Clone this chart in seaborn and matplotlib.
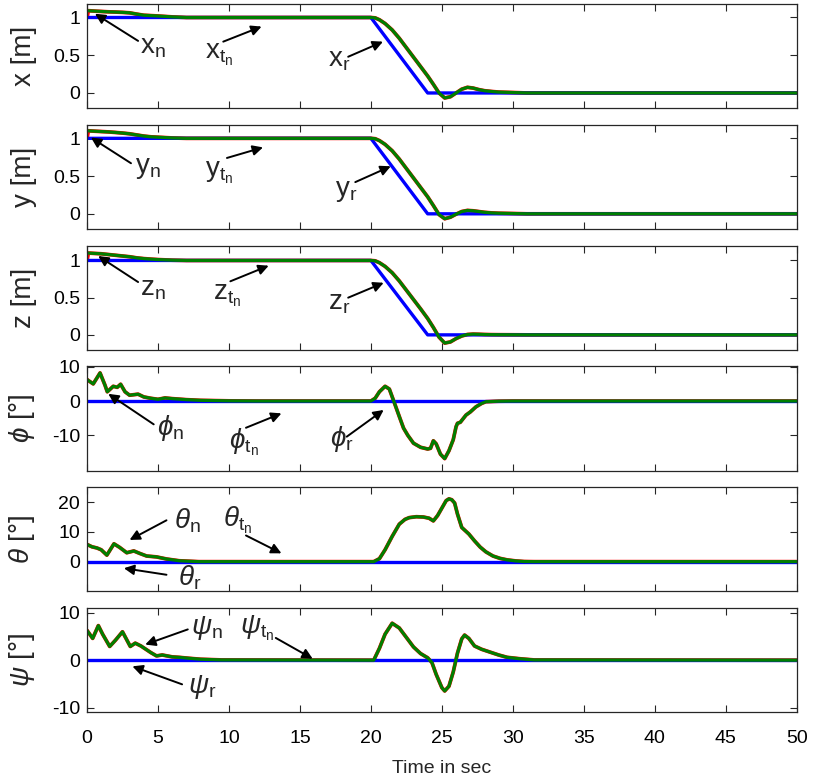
import numpy as np
import seaborn as sns
import matplotlib.pyplot as plt

sns.set_style("ticks")
plt.rcParams['font.family'] = ['Liberation Sans', 'DejaVu Sans']
plt.rcParams['mathtext.fontset'] = 'custom'
plt.rcParams['mathtext.rm'] = 'Liberation Sans'
plt.rcParams['mathtext.it'] = 'Liberation Sans:italic'
plt.rcParams['mathtext.bf'] = 'Liberation Sans:bold'

# reference trajectories
t_ref = [0, 20, 24, 50]
pos_ref = [1, 1, 0, 0]
t_ang_ref = [0, 50]
ang_ref = [0, 0]

# position responses (shared time grid)
t_pos = [0, 0.5, 1, 1.5, 2, 2.5, 3, 3.5, 4, 4.5, 5, 6, 7,
         20, 20.3, 20.6, 21, 21.5, 22, 22.5, 23, 23.5, 24,
         24.4, 24.8, 25.2, 25.6, 26, 26.4, 26.8, 27.2, 27.6, 28,
         28.5, 29, 30, 31, 50]
x_tn = [1.09, 1.085, 1.08, 1.075, 1.072, 1.068, 1.062, 1.045, 1.03, 1.025, 1.02, 1.008, 1.0,
        1.0, 0.995, 0.97, 0.92, 0.835, 0.725, 0.6, 0.475, 0.35, 0.225,
        0.115, 0.0, -0.066, -0.05, 0.0, 0.05, 0.075, 0.065, 0.045, 0.03,
        0.02, 0.012, 0.006, 0.0, 0.0]
y_tn = [1.10, 1.095, 1.09, 1.085, 1.078, 1.07, 1.06, 1.045, 1.03, 1.02, 1.015, 1.005, 1.0,
        1.0, 0.995, 0.97, 0.92, 0.835, 0.725, 0.6, 0.475, 0.35, 0.225,
        0.11, -0.01, -0.065, -0.045, -0.005, 0.03, 0.045, 0.04, 0.03, 0.02,
        0.012, 0.008, 0.004, 0.0, 0.0]
z_tn = [1.10, 1.095, 1.09, 1.08, 1.07, 1.06, 1.05, 1.035, 1.025, 1.018, 1.012, 1.004, 1.0,
        1.0, 0.995, 0.97, 0.92, 0.835, 0.725, 0.6, 0.475, 0.35, 0.22,
        0.10, -0.03, -0.11, -0.095, -0.05, -0.015, 0.005, 0.01, 0.008, 0.005,
        0.003, 0.002, 0.001, 0.0, 0.0]

# attitude responses
t_phi = [0, 0.09, 0.44, 0.92, 1.27, 1.43, 1.85, 2.13, 2.37, 2.68,
         3.0, 3.6, 4.0, 4.5, 5.0, 5.5, 6.0, 7.0, 8.0, 10,
         12, 20, 20.3, 20.6, 21.0, 21.3, 21.6, 22.0, 22.3, 22.6,
         23.0, 23.5, 24.0, 24.2, 24.4, 24.6, 24.9, 25.2, 25.5, 25.8,
         26.0, 26.1, 26.3, 26.7, 27.0, 27.4, 27.8, 28.1, 29, 30, 50]
phi_tn = [6.3, 6.0, 5.0, 8.2, 4.6, 2.7, 4.3, 4.0, 4.9, 2.7,
          1.7, 2.0, 1.2, 0.8, 0.5, 0.9, 0.7, 0.4, 0.2, 0.05,
          0, 0, 0.8, 2.7, 4.3, 3.5, 0.1, -4.5, -7.9, -10,
          -12.3, -13.5, -14, -13.8, -11.6, -12.5, -15.5, -16.8, -14.5, -11.3,
          -7.5, -6.5, -6.2, -4.1, -3.2, -1.7, -0.7, -0.2, -0.05, 0, 0]

t_theta = [0, 0.35, 0.7, 1.0, 1.4, 1.9, 2.3, 2.8, 3.3, 3.7,
           4.2, 4.9, 5.6, 6.5, 7.9, 20.2, 20.6, 21.0, 21.5, 22.0,
           22.4, 22.7, 23.2, 23.7, 24.1, 24.4, 24.7, 25.0, 25.3, 25.5,
           25.7, 25.9, 26.1, 26.4, 26.9, 27.3, 27.7, 28.1, 28.6, 29.1,
           29.6, 30.2, 30.8, 31.5, 50]
theta_tn = [5.8, 5.0, 4.6, 4.0, 2.2, 6.0, 4.8, 3.0, 3.6, 2.8,
            1.9, 1.6, 0.9, 0.3, 0, 0, 1.0, 4.0, 8.5, 12.6,
            14.2, 14.8, 15.1, 15.0, 14.6, 13.7, 15.5, 18.0, 20.5, 21.1,
            20.8, 19.7, 16.0, 11.5, 9.3, 7.0, 4.9, 3.3, 1.9, 1.1,
            0.6, 0.25, 0.05, 0, 0]

t_psi = [0, 0.4, 0.8, 1.1, 1.6, 2.0, 2.5, 3.05, 3.4, 3.8,
         4.5, 4.9, 5.3, 6.0, 6.5, 7.2, 8.0, 9.5, 20.2, 20.6,
         21.0, 21.5, 22.0, 22.5, 23.0, 23.5, 24.0, 24.3, 24.6, 25.0,
         25.2, 25.5, 25.8, 26.1, 26.4, 26.6, 26.9, 27.3, 27.8, 28.3,
         29.0, 29.6, 30.5, 31.5, 50]
psi_tn = [6.3, 4.6, 7.3, 5.5, 2.9, 4.2, 6.0, 2.9, 3.6, 3.0,
          1.6, 0.9, 1.1, 0.7, 0.6, 0.4, 0.2, 0.05, 0, 2.5,
          5.5, 7.8, 6.8, 4.8, 2.8, 1.4, 0.5, -0.5, -3.0, -5.8,
          -6.5, -5.5, -2.5, 1.5, 4.5, 5.3, 4.6, 3.0, 2.3, 1.8,
          1.1, 0.6, 0.3, 0.05, 0]

x_ticks = list(range(0, 51, 5))

# panel setup: (ylabel, time, response, ref time, ref, red starts on ref,
#               ylim, yticks, yticklabels, annotations)
# annotation: (text, text pos, arrow tail, arrow tip)
panels = [
    ("x [m]", t_pos, x_tn, t_ref, pos_ref, True, (-0.2, 1.18), [0, 0.5, 1], ["0", "0.5", "1"],
     [(r"$\mathrm{x}_\mathrm{n}$", (3.75, 0.52), (3.6, 0.69), (0.56, 1.05)),
      (r"$\mathrm{x}_{\mathrm{t}_\mathrm{n}}$", (8.3, 0.46), (9.6, 0.68), (12.3, 0.88)),
      (r"$\mathrm{x}_\mathrm{r}$", (17.0, 0.35), (18.4, 0.48), (20.85, 0.68))]),
    ("y [m]", t_pos, y_tn, t_ref, pos_ref, True, (-0.2, 1.18), [0, 0.5, 1], ["0", "0.5", "1"],
     [(r"$\mathrm{y}_\mathrm{n}$", (3.4, 0.54), (3.1, 0.67), (0.28, 1.01)),
      (r"$\mathrm{y}_{\mathrm{t}_\mathrm{n}}$", (8.3, 0.5), (9.86, 0.74), (12.4, 0.88)),
      (r"$\mathrm{y}_\mathrm{r}$", (17.5, 0.24), (18.9, 0.42), (21.4, 0.63))]),
    ("z [m]", t_pos, z_tn, t_ref, pos_ref, True, (-0.2, 1.2), [0, 0.5, 1], ["0", "0.5", "1"],
     [(r"$\mathrm{z}_\mathrm{n}$", (3.73, 0.525), (3.6, 0.71), (0.79, 1.06)),
      (r"$\mathrm{z}_{\mathrm{t}_\mathrm{n}}$", (8.9, 0.475), (10.1, 0.72), (12.8, 0.93)),
      (r"$\mathrm{z}_\mathrm{r}$", (17.0, 0.345), (18.4, 0.5), (20.9, 0.7))]),
    (r"$\phi$ [°]", t_phi, phi_tn, t_ang_ref, ang_ref, False, (-20.3, 10.1), [-10, 0, 10], ["-10", "0", "10"],
     [(r"$\phi_\mathrm{n}$", (4.9, -10.0), (4.7, -6.8), (1.5, 2.1)),
      (r"$\phi_{\mathrm{t}_\mathrm{n}}$", (10.0, -13.8), (11.2, -7.8), (13.7, -3.6)),
      (r"$\phi_\mathrm{r}$", (17.1, -13.0), (18.3, -10.4), (20.9, -2.6))]),
    (r"$\theta$ [°]", t_theta, theta_tn, t_ang_ref, ang_ref, False, (-10, 25), [0, 10, 20], ["0", "10", "20"],
     [(r"$\theta_\mathrm{n}$", (6.1, 11.3), (5.6, 13.9), (3.0, 7.3)),
      (r"$\theta_{\mathrm{t}_\mathrm{n}}$", (9.6, 12.0), (11.2, 8.8), (13.7, 2.8)),
      (r"$\theta_\mathrm{r}$", (6.4, -8.0), (5.6, -4.4), (2.6, -2.2))]),
    (r"$\psi$ [°]", t_psi, psi_tn, t_ang_ref, ang_ref, False, (-11, 11), [-10, 0, 10], ["-10", "0", "10"],
     [(r"$\psi_\mathrm{n}$", (7.3, 5.6), (7.1, 6.5), (4.1, 3.3)),
      (r"$\psi_{\mathrm{t}_\mathrm{n}}$", (10.75, 5.6), (13.3, 4.7), (15.9, 0.3)),
      (r"$\psi_\mathrm{r}$", (7.1, -7.0), (6.7, -5.1), (3.2, -1.3))]),
]

fig, axes = plt.subplots(6, 1, figsize=(8.13, 7.81), dpi=100)
fig.subplots_adjust(left=0.107, right=0.980, top=0.995, bottom=0.088, hspace=0.16)

axis_col = "#262626"

for i, (ax, p) in enumerate(zip(axes, panels)):
    ylabel, t, resp, tr, ref, red_jump, ylim, yt, ytl, notes = p
    # nominal response (mostly hidden under the green one)
    if red_jump:
        t_red = [0, 0.1] + list(t[1:])
        r_red = [ref[0], resp[0]] + list(resp[1:])
    else:
        t_red, r_red = t, resp
    sns.lineplot(x=t_red, y=r_red, ax=ax, color="red", lw=2.7, estimator=None, sort=False)
    sns.lineplot(x=tr, y=ref, ax=ax, color="blue", lw=2.4, estimator=None, sort=False)
    sns.lineplot(x=t, y=resp, ax=ax, color="#007f00", lw=2.3, estimator=None, sort=False)

    ax.set_xlim(0, 50)
    ax.set_ylim(*ylim)
    ax.set_yticks(yt)
    ax.set_yticklabels(ytl)
    ax.set_xticks(x_ticks)
    if i < 5:
        ax.set_xticklabels([])
    ax.tick_params(direction="in", length=5, width=0.8, top=True, right=True,
                   labelsize=14, colors=axis_col, labelcolor="black", pad=5)
    ax.tick_params(axis="x", pad=13)
    for s in ax.spines.values():
        s.set_color(axis_col)
        s.set_linewidth(0.9)
        s.set_visible(True)
    ax.set_ylabel(ylabel, fontsize=20)
    ax.yaxis.set_label_coords(-0.07, 0.5)

    for txt, tp, tail, tip in notes:
        ax.annotate("", xy=tip, xytext=tail,
                    arrowprops=dict(arrowstyle="-|>", color="black", lw=1.4,
                                    mutation_scale=15, shrinkA=0, shrinkB=0))
        ax.text(tp[0], tp[1], txt, fontsize=20, ha="left", va="baseline")

axes[-1].set_xlabel("Time in sec", fontsize=14, labelpad=9)

fig.savefig("out.png", dpi=100)
